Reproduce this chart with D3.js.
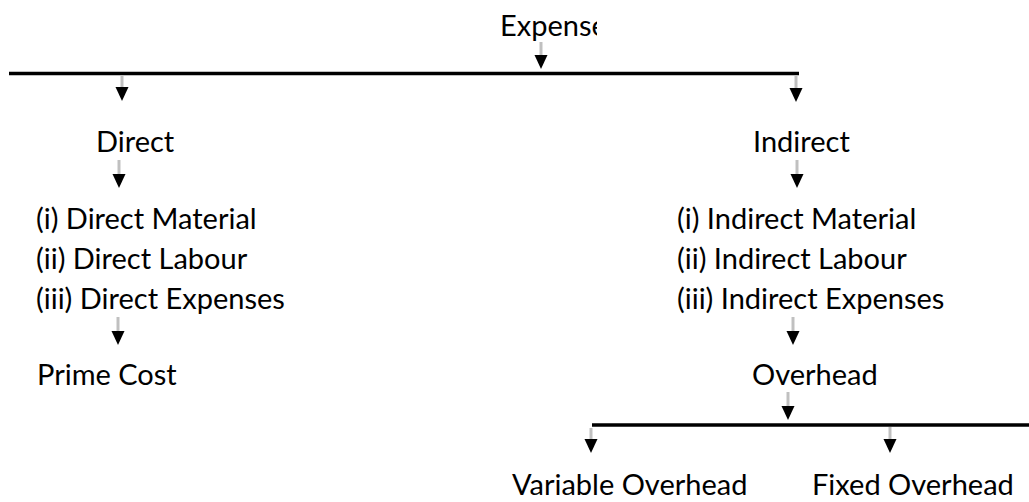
<!DOCTYPE html>
<html>
<head>
<meta charset="utf-8">
<script src="https://cdn.jsdelivr.net/npm/d3@7"></script>
<style>
  html, body { margin: 0; padding: 0; background: #fff; }
  svg { display: block; }
</style>
</head>
<body>
<div id="chart"></div>
<script>
// categories of the cost tree
const rootLabel = "Expense";
const branchLabels = ["Direct", "Indirect"];
const directItems = ["(i) Direct Material", "(ii) Direct Labour", "(iii) Direct Expenses"];
const indirectItems = ["(i) Indirect Material", "(ii) Indirect Labour", "(iii) Indirect Expenses"];
const resultLabels = ["Prime Cost", "Overhead"];
const overheadTypes = ["Variable Overhead", "Fixed Overhead"];

function drawTree() {
    const width = 1029, height = 502;
    const svg = d3.select("#chart").append("svg")
        .attr("width", width)
        .attr("height", height);

    // row baselines
    const y = d3.scaleOrdinal()
        .domain(["root", "bus1", "branch", "item0", "item1", "item2", "result", "bus2", "sub"])
        .range([36, 73.5, 152, 229, 269, 309, 385, 425, 495]);

    // text left edges per column
    const textX = d3.scaleOrdinal()
        .domain(["root", "Direct", "Indirect", "directList", "indirectList", "Prime Cost", "Overhead", "Variable Overhead", "Fixed Overhead"])
        .range([500, 96, 753, 36, 677, 37, 752, 512, 812]);

    const font = "Lato, 'Open Sans', sans-serif";
    const fontSize = "29px";

    const addText = (g, label, x, yy) => g.append("text")
        .attr("x", x)
        .attr("y", yy)
        .attr("fill", "#000")
        .style("font-family", font)
        .style("font-size", fontSize)
        .text(label);

    // arrow: grey shaft + black head
    const arrow = (x, y0, y1) => {
        const headH = 14, headW = 6.5;
        svg.append("line")
            .attr("x1", x).attr("x2", x)
            .attr("y1", y0).attr("y2", y1 - headH)
            .attr("stroke", "#c0c0c0")
            .attr("stroke-width", 3);
        svg.append("path")
            .attr("d", `M${x - headW},${y1 - headH}L${x + headW},${y1 - headH}L${x},${y1}Z`)
            .attr("fill", "#000");
    };

    // root label is cut off by its text box
    svg.append("clipPath").attr("id", "rootClip")
        .append("rect").attr("x", 0).attr("y", 0).attr("width", 597).attr("height", 60);
    addText(svg.append("g").attr("clip-path", "url(#rootClip)"), rootLabel, textX("root"), y("root"));

    // bus lines
    svg.append("line")
        .attr("x1", 9).attr("x2", 799)
        .attr("y1", y("bus1")).attr("y2", y("bus1"))
        .attr("stroke", "#000").attr("stroke-width", 3.5);
    svg.append("line")
        .attr("x1", 592).attr("x2", width)
        .attr("y1", y("bus2")).attr("y2", y("bus2"))
        .attr("stroke", "#000").attr("stroke-width", 3.5);

    // arrows
    arrow(541, 42, 69);
    arrow(122, 75, 101);
    arrow(796, 75, 102);
    arrow(119, 160, 188);
    arrow(797, 160, 188);
    arrow(118, 317, 345);
    arrow(793, 317, 345);
    arrow(788, 392, 420);
    arrow(591, 428, 453);
    arrow(890, 427, 453);

    // branch labels
    branchLabels.forEach((b) => addText(svg, b, textX(b), y("branch")));

    // item lists
    directItems.forEach((t, i) => addText(svg, t, textX("directList"), y("item" + i)));
    indirectItems.forEach((t, i) => addText(svg, t, textX("indirectList"), y("item" + i)));

    // results
    resultLabels.forEach((r) => addText(svg, r, textX(r), y("result")));

    // overhead split
    overheadTypes.forEach((o) => addText(svg, o, textX(o), y("sub")));
}

drawTree();
</script>
</body>
</html>
